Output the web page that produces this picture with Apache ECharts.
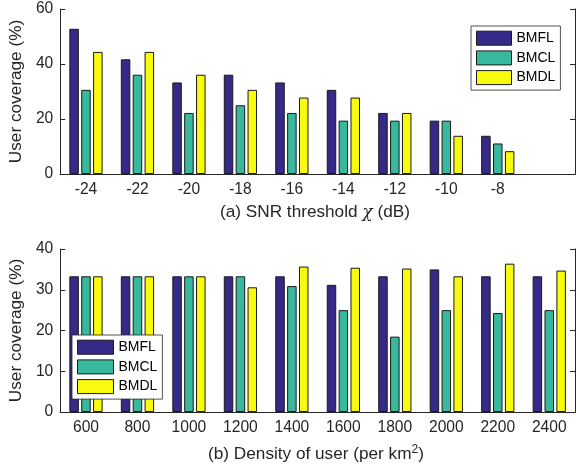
<!DOCTYPE html>
<html>
<head>
<meta charset="utf-8">
<script src="https://cdn.jsdelivr.net/npm/echarts@6/dist/echarts.min.js"></script>
<style>html,body{margin:0;padding:0;background:#fff}#c{width:576px;height:469px}</style>
</head>
<body>
<div id="c"></div>
<script>
// Top chart: SNR threshold
const snrCategories = ['-24','-22','-20','-18','-16','-14','-12','-10','-8'];
const snrBMFL = [52.8, 41.7, 33.3, 36.1, 33.3, 30.6, 22.2, 19.4, 13.9];
const snrBMCL = [30.6, 36.1, 22.2, 25.0, 22.2, 19.4, 19.4, 19.4, 11.1];
const snrBMDL = [44.4, 44.4, 36.1, 30.6, 27.8, 27.8, 22.2, 13.9, 8.3];
// Bottom chart: user density
const densCategories = ['600','800','1000','1200','1400','1600','1800','2000','2200','2400'];
const densBMFL = [33.3, 33.3, 33.3, 33.3, 33.3, 31.2, 33.3, 35.0, 33.3, 33.3];
const densBMCL = [33.3, 33.3, 33.3, 33.3, 30.9, 25.0, 18.5, 25.0, 24.3, 25.0];
const densBMDL = [33.3, 33.3, 33.3, 30.6, 35.7, 35.4, 35.2, 33.3, 36.4, 34.7];
const seriesNames = ['BMFL','BMCL','BMDL'];
const colors = ['#352a87','#38b89d','#f9fb0e'];

const axisColor = '#262626';
const font = 'Liberation Sans, Arial, sans-serif';
const tickFont = 15.6;
const labelFont = 17.2;
const legendFont = 14;
// pad top chart with an empty slot (axis extends to -6)
const topCats = snrCategories.concat(['']);

function xAxes(cats, gridIndex, nReal) {
  return [
    {type:'category', gridIndex, data:cats, position:'bottom',
     axisLine:{lineStyle:{color:axisColor,width:1}},
     axisTick:{inside:true, alignWithLabel:true, length:5, interval: (i)=>i < nReal, lineStyle:{color:axisColor}},
     axisLabel:{color:axisColor, fontSize:tickFont, fontFamily:font, margin:8, interval:0}},
    {type:'category', gridIndex, data:cats, position:'top',
     axisLine:{lineStyle:{color:axisColor,width:1}},
     axisTick:{inside:true, alignWithLabel:true, length:5, interval: (i)=>i < nReal, lineStyle:{color:axisColor}},
     axisLabel:{show:false}}
  ];
}
function yAxes(max, interval, gridIndex) {
  return [
    {type:'value', gridIndex, min:0, max, interval, position:'left',
     axisLine:{show:true,lineStyle:{color:axisColor}},
     axisTick:{show:true, inside:true, length:5, lineStyle:{color:axisColor}},
     splitLine:{show:false},
     axisLabel:{color:axisColor, fontSize:tickFont, fontFamily:font, margin:7},
     name:'User coverage (%)', nameLocation:'middle', nameGap:31.5,
     nameTextStyle:{color:axisColor, fontSize:labelFont, fontFamily:font}},
    {type:'value', gridIndex, min:0, max, interval, position:'right',
     axisLine:{show:true,lineStyle:{color:axisColor}},
     axisTick:{show:true, inside:true, length:5, lineStyle:{color:axisColor}},
     splitLine:{show:false}, axisLabel:{show:false}}
  ];
}
function barSeries(arrs, xi, yi) {
  return arrs.map((d, k) => ({
    name: seriesNames[k], type:'bar', xAxisIndex:xi, yAxisIndex:yi,
    data:d, barWidth:9.5, barGap:'25%',
    itemStyle:{color:colors[k], borderColor:'#1a1a1a', borderWidth:1},
    emphasis:{disabled:true}
  }));
}
function legend(left, top, w) {
  return {data:seriesNames.map(n=>({name:n, icon:'rect'})), orient:'vertical', left, top,
    itemWidth:w, itemHeight:14, itemGap:4.7,
    padding:[4.7,5,5,5], borderColor:'#262626', borderWidth:0.8, backgroundColor:'#fff',
    itemStyle:{borderWidth:1, borderColor:'#1a1a1a'},
    textStyle:{color:'#000', fontSize:legendFont, fontFamily:font}};
}

const chart = echarts.init(document.getElementById('c'), null, {renderer:'canvas'});
chart.setOption({
  animation:false,
  textStyle:{fontFamily:font},
  grid:[
    {left:55, top:9, width:520, height:165},
    {left:55, top:249, width:520, height:163}
  ],
  xAxis: xAxes(topCats, 0, snrCategories.length).concat(xAxes(densCategories, 1, densCategories.length)),
  yAxis: yAxes(60, 20, 0).concat(yAxes(40, 10, 1)),
  legend:[legend(471, 26, 35), legend(72, 335, 36)],
  graphic:[
    {type:'text', x:315, y:204, style:{
      text:'(a) SNR threshold {chi|χ} (dB)', font:labelFont + 'px ' + font, fill:axisColor,
      textAlign:'center', textVerticalAlign:'top',
      rich:{chi:{fontFamily:'DejaVu Serif', fontStyle:'italic', fontSize:labelFont, fill:axisColor}}
    }},
    {type:'text', x:316, y:444, style:{
      text:'(b) Density of user (per km{sup|2})', font:labelFont + 'px ' + font, fill:axisColor,
      textAlign:'center', textVerticalAlign:'top',
      rich:{sup:{fontSize:12, fill:axisColor, verticalAlign:'top', padding:[0,0,9,0]}}
    }}
  ],
  series: barSeries([snrBMFL, snrBMCL, snrBMDL], 0, 0)
    .concat(barSeries([densBMFL, densBMCL, densBMDL], 2, 2))
});
</script>
</body>
</html>
